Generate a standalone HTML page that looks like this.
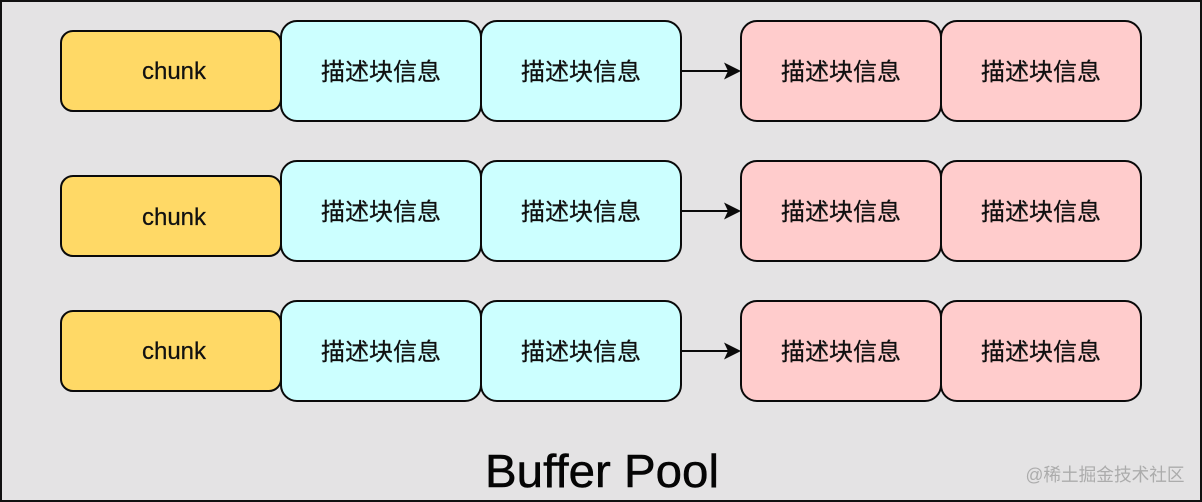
<!DOCTYPE html>
<html><head><meta charset="utf-8"><style>
html,body{margin:0;padding:0;background:#e4e3e4}
svg{display:block}
text{font-family:"Liberation Sans","Noto Sans CJK SC",sans-serif;fill:#111;text-anchor:middle;dominant-baseline:auto}
.y{fill:#ffd966;stroke:#0a0a0a;stroke-width:2}
.c{fill:#ccffff;stroke:#0a0a0a;stroke-width:2}
.r{fill:#ffcccc;stroke:#0a0a0a;stroke-width:2}
.t{font-size:24px;stroke:#111;stroke-width:.25px}
</style></head><body>
<svg width="1202" height="502" viewBox="0 0 1202 502" xmlns="http://www.w3.org/2000/svg">
<rect x="0" y="0" width="1202" height="502" fill="#e4e3e4"/>
<rect x="1" y="1" width="1200" height="500" fill="none" stroke="#111" stroke-width="2"/>

<rect class="y" x="61" y="31" width="220" height="80" rx="12"/>
<rect class="c" x="281" y="21" width="200" height="100" rx="16"/>
<rect class="c" x="481" y="21" width="200" height="100" rx="16"/>
<rect class="r" x="741" y="21" width="200" height="100" rx="16"/>
<rect class="r" x="941" y="21" width="200" height="100" rx="16"/>
<line x1="681" y1="71" x2="730" y2="71" stroke="#0a0a0a" stroke-width="2"/>
<path d="M741 71L724 62.500L728 71L724 79.500Z" fill="#0a0a0a"/>
<text class="t" x="174" y="79">chunk</text>
<text class="t" x="381" y="80">描述块信息</text>
<text class="t" x="581" y="80">描述块信息</text>
<text class="t" x="841" y="80">描述块信息</text>
<text class="t" x="1041" y="80">描述块信息</text>

<rect class="y" x="61" y="176" width="220" height="80" rx="12"/>
<rect class="c" x="281" y="161" width="200" height="100" rx="16"/>
<rect class="c" x="481" y="161" width="200" height="100" rx="16"/>
<rect class="r" x="741" y="161" width="200" height="100" rx="16"/>
<rect class="r" x="941" y="161" width="200" height="100" rx="16"/>
<line x1="681" y1="211" x2="730" y2="211" stroke="#0a0a0a" stroke-width="2"/>
<path d="M741 211L724 202.500L728 211L724 219.500Z" fill="#0a0a0a"/>
<text class="t" x="174" y="225">chunk</text>
<text class="t" x="381" y="220">描述块信息</text>
<text class="t" x="581" y="220">描述块信息</text>
<text class="t" x="841" y="220">描述块信息</text>
<text class="t" x="1041" y="220">描述块信息</text>

<rect class="y" x="61" y="311" width="220" height="80" rx="12"/>
<rect class="c" x="281" y="301" width="200" height="100" rx="16"/>
<rect class="c" x="481" y="301" width="200" height="100" rx="16"/>
<rect class="r" x="741" y="301" width="200" height="100" rx="16"/>
<rect class="r" x="941" y="301" width="200" height="100" rx="16"/>
<line x1="681" y1="351" x2="730" y2="351" stroke="#0a0a0a" stroke-width="2"/>
<path d="M741 351L724 342.500L728 351L724 359.500Z" fill="#0a0a0a"/>
<text class="t" x="174" y="359">chunk</text>
<text class="t" x="381" y="360">描述块信息</text>
<text class="t" x="581" y="360">描述块信息</text>
<text class="t" x="841" y="360">描述块信息</text>
<text class="t" x="1041" y="360">描述块信息</text>

<text x="602" y="487" font-size="46" textLength="234" lengthAdjust="spacingAndGlyphs" style="fill:#050505;stroke:#050505;stroke-width:.5px">Buffer Pool</text>
<text x="1105" y="481" font-size="18" style="fill:#acacac" textLength="159" lengthAdjust="spacingAndGlyphs">@稀土掘金技术社区</text>
</svg>
</body></html>
